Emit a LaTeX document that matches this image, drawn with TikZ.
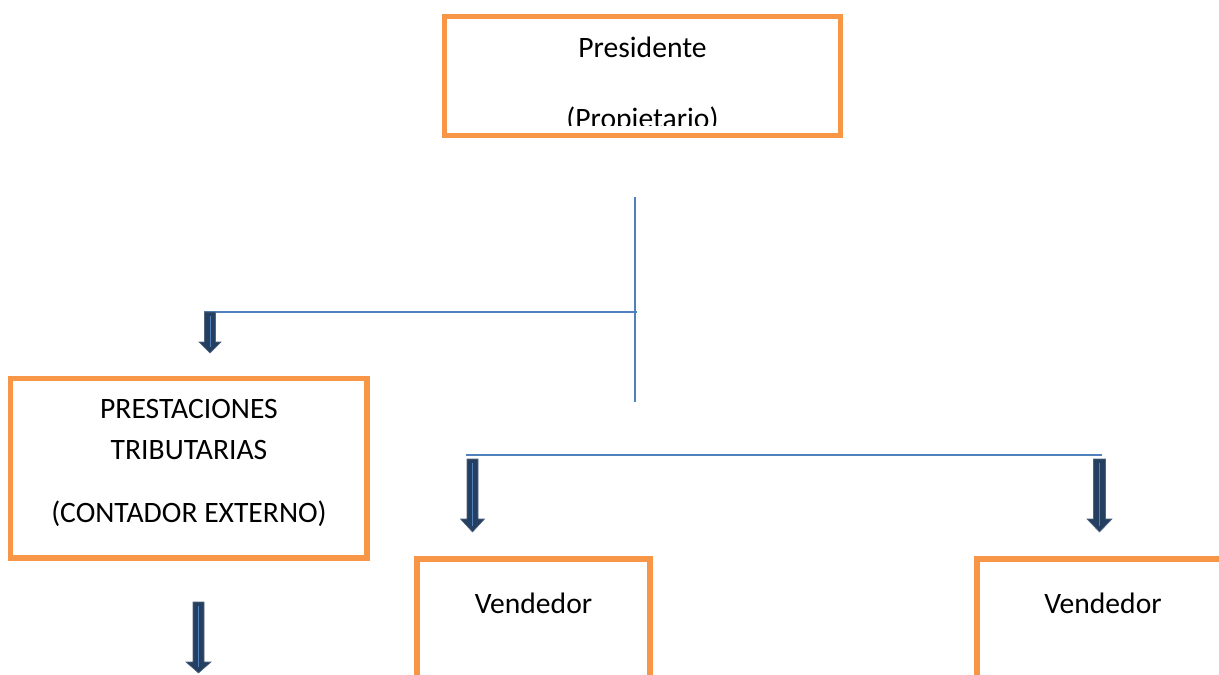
\documentclass[tikz,border=0pt]{standalone}
\usepackage{fontspec}
\setmainfont{Carlito}
\definecolor{boxorange}{HTML}{F79646}
\definecolor{linkblue}{HTML}{4F81BD}
\definecolor{arrownavy}{HTML}{243F60}
\tikzset{
  orgbox/.style={draw=boxorange, line width=5.5pt, fill=white, outer sep=0pt, inner sep=0pt},
  label/.style={font=\fontsize{29.6}{35}\selectfont, anchor=base, inner sep=0pt},
  link/.style={draw=linkblue, line width=2.2pt},
  blockarr/.style={fill=arrownavy, draw=arrownavy!80!white, line width=0.6pt},
  arrcore/.style={draw=linkblue, line width=1pt}
}
% #1 center x, #2 shaft top, #3 head top, #4 tip, #5 half shaft, #6 half head
\newcommand{\myblockarrow}[6]{%
  \path[blockarr] (#1-#5,#2) -- (#1+#5,#2) -- (#1+#5,#3) -- (#1+#6,#3) -- (#1,#4)
    -- (#1-#6,#3) -- (#1-#5,#3) -- cycle;
  \draw[arrcore] (#1,#2+4) -- (#1,#4-6);
}
\begin{document}
\begin{tikzpicture}[x=1pt, y=-1pt]
\clip (0,0) rectangle (1219,675);
\fill[white] (0,0) rectangle (1219,675);

% top box
\node[orgbox, minimum width=396pt, minimum height=119pt, anchor=north west] (pres) at (444.5,16.5) {};
\node[label] (presT) at (642.5,57) {Presidente};
\begin{scope}
  \clip (446,19) rectangle (839,125);
  \node[label] (propT) at (642.5,128) {(Propietario)};
\end{scope}

% connector from president
\coordinate (v1top) at (635,197);
\coordinate (v1bot) at (635,402);
\coordinate (v1mid) at (637,312);
\coordinate (a1start) at (204,312);
\draw[link] (v1top) -- (v1bot);
\draw[link] (v1mid) -- (a1start);

% arrow to left box
\myblockarrow{210}{312}{342}{353}{5.5}{11}

% left box
\node[orgbox, minimum width=356.5pt, minimum height=179.5pt, anchor=north west] (prest) at (10.5,378.5) {};
\node[label] (prestT1) at (189,418) {PRESTACIONES};
\node[label] (prestT2) at (189,459) {TRIBUTARIAS};
\node[label] (prestT3) at (189,522) {(CONTADOR EXTERNO)};

% arrow below left box
\myblockarrow{198.5}{602}{662}{673}{5.5}{12.5}

% second horizontal link
\coordinate (h2l) at (466,455);
\coordinate (h2r) at (1102,455);
\draw[link] (h2l) -- (h2r);

% arrows to vendedores
\myblockarrow{472.5}{459}{519}{532}{5.5}{12}
\myblockarrow{1099.5}{459}{519}{532}{6}{12.5}

% vendedor boxes
\node[orgbox, minimum width=233pt, minimum height=160pt, anchor=north west] (vend1) at (417,559) {};
\node[label] (vend1T) at (533.5,613) {Vendedor};
\node[orgbox, minimum width=252pt, minimum height=160pt, anchor=north west] (vend2) at (977,559) {};
\node[label] (vend2T) at (1103,613) {Vendedor};
\end{tikzpicture}
\end{document}
